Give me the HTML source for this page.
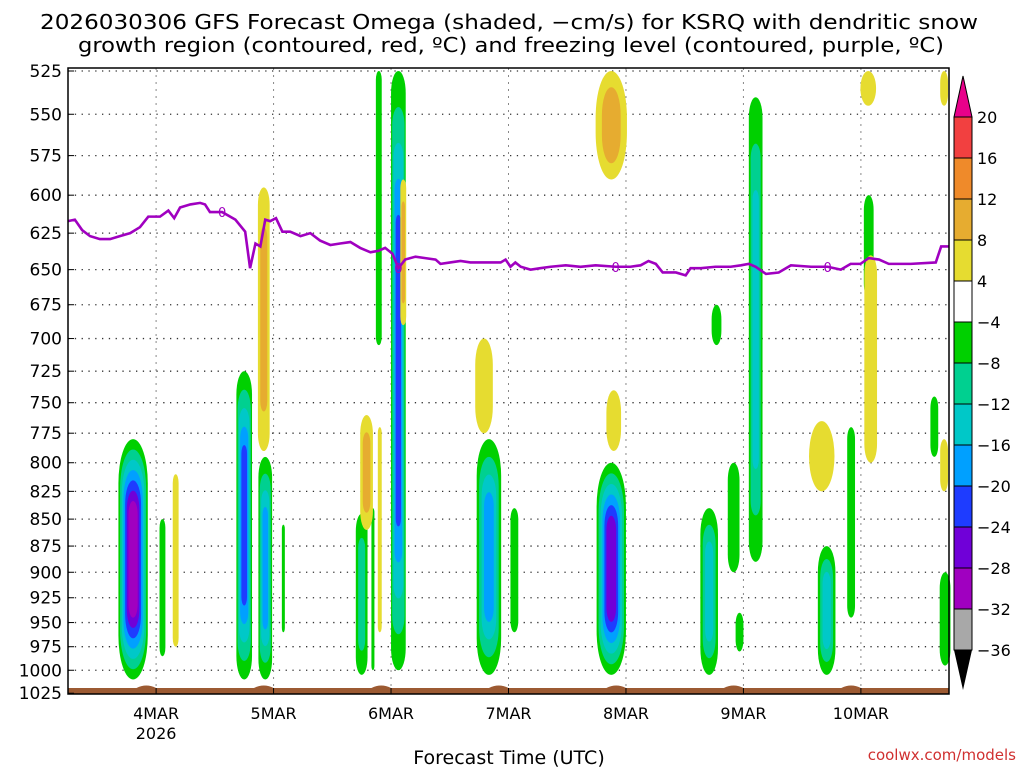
<!DOCTYPE html>
<html><head><meta charset="utf-8">
<style>
body{margin:0;background:#fff;}
svg text{font-family:"DejaVu Sans","Liberation Sans",sans-serif;}
</style></head>
<body>
<svg id="c" width="1024" height="768" viewBox="0 0 1024 768" xmlns="http://www.w3.org/2000/svg">
<text x="40" y="29" font-size="20" textLength="938" lengthAdjust="spacingAndGlyphs">2026030306 GFS Forecast Omega (shaded, −cm/s) for KSRQ with dendritic snow</text>
<text x="78" y="52" font-size="20" textLength="866" lengthAdjust="spacingAndGlyphs">growth region (contoured, red, ºC) and freezing level (contoured, purple, ºC)</text>
<g id="plot"></g>
<g id="axes"></g>
<g id="cbar"></g>
<text x="509" y="764" font-size="19" text-anchor="middle">Forecast Time (UTC)</text>
<text x="1016" y="760" font-size="15" text-anchor="end" fill="#d03030">coolwx.com/models</text>
</svg>
<script>
// ---- data ----
const pressureTicks=[525,550,575,600,625,650,675,700,725,750,775,800,825,850,875,900,925,950,975,1000,1025];
const dayLabels=["4MAR","5MAR","6MAR","7MAR","8MAR","9MAR","10MAR"];
const dayHours=[18,42,66,90,114,138,162];
const cbarLevels=[20,16,12,8,4,-4,-8,-12,-16,-20,-24,-28,-32,-36];
const frzHours=[0,1.4,2.9,4.5,6.5,8.6,10.6,12.7,14.7,16.4,18.8,20.5,21.7,22.9,25,27,28,29,31.5,34.2,36.2,37.2,38.3,39.3,40.3,41.3,42.5,43.8,45.4,47.5,49.5,51.5,53.6,55.6,57.7,59.7,61.8,63.4,64.8,66.3,67.5,68.9,71,73,75.1,76.1,78.1,80.2,82.2,84.3,86.3,88.4,89.4,90.4,91.4,92.5,94.5,96.5,98.6,101.7,104.7,107.8,111.9,114.9,117,118.6,120.1,121.5,124.2,126.2,127.2,129.3,132.3,135.4,137.5,139.1,140.5,142.6,145.2,147.7,151.8,155.2,157.9,159.9,161.9,163.6,165.7,167.7,170.2,172.2,177.3,178.4,180];
const frzPres=[617,616,623,627,629,629,627,625,621,614,614,610,615,608,606,605,606,611,611,616,624,649,632,634,616,617,615,624,624,627,625,630,633,632,631,635,638,637,635,639,649,643,641,642,643,646,645,644,645,645,645,645,643,648,645,648,650,649,648,647,648,647,648,648,647,644,646,652,652,654,649,649,648,648,647,646,648,653,652,647,648,648,650,646,646,642,643,646,646,646,645,634,634];
// omega features: center hour, half-width hours, top p, bottom p, peak value
const featHour=[13.3,19.3,36,40.3,44,60,63.5,62.3,67.5,86,91.2,111,131,140.5,136,132.5,155,160,163.6,177,179.2,137.2, 22,40,61,68.5,63.7,85,111,111.5,154,164,163.5,179,179];
const featHalfW=[3,0.6,1.6,1.4,0.3,1.2,0.6,0.2,1.5,2.5,0.8,3,1.8,1.4,1.2,1,1.8,0.8,1,0.8,1.1,0.8, 0.6,1.2,1.3,0.6,0.4,1.8,3.2,1.5,2.6,1.3,1.6,0.8,0.8];
const featTop=[780,850,725,795,855,845,525,840,525,780,840,800,840,540,800,675,875,770,600,745,900,940, 810,595,760,590,770,700,525,740,765,640,525,525,780];
const featBot=[1010,985,1010,1010,960,1005,705,1000,1000,1005,960,1005,1005,890,900,705,1005,945,670,795,995,980, 975,790,860,690,960,775,590,790,825,800,545,545,825];
const featPeak=[-32,-6,-24,-20,-6,-10,-6,-6,-24,-20,-6,-28,-16,-14,-6,-6,-16,-6,-6,-6,-6,-6, 6,9,11,9,6,6,10,6,6,6,6,6,6];
// ---- helpers ----
const NS="http://www.w3.org/2000/svg";
const X0=68,X1=949,Y0=71,K=930,YB=694;
const xS=h=>X0+h*(X1-X0)/180;
const yS=p=>Y0+K*Math.log(p/525);
function mk(t,a,parent){const e=document.createElementNS(NS,t);for(const k in a)e.setAttribute(k,a[k]);parent.appendChild(e);return e;}
const negCols=["#00d000","#00d090","#00c8c8","#00a0ff","#1e3cff","#7000d8","#a000c0","#a8a8a8"];
const posCols=["#e6dc30","#e6ac30","#ef8a2a","#f24040"];
const plot=document.getElementById('plot'),axes=document.getElementById('axes'),cb=document.getElementById('cbar');
mk('rect',{x:X0,y:68,width:X1-X0,height:YB-68,fill:'#fff'},plot);
pressureTicks.forEach(p=>{const l=mk('line',{x1:X0,x2:X1,y1:yS(p),y2:yS(p),stroke:'#333','stroke-width':1.3,'stroke-dasharray':'1.3 5.5'},plot);

});
dayHours.forEach((h,i)=>{const l=mk('line',{x1:xS(h),x2:xS(h),y1:68,y2:YB,stroke:'#888','stroke-width':1,'stroke-dasharray':'2 5'},plot);

});
featHour.forEach((h,i)=>{
  const v=featPeak[i],neg=v<0;
  const n=Math.max(1,Math.ceil((Math.abs(v)-4)/4));
  const cols=neg?negCols:posCols;
  const cx=xS(h),w=(xS(featHalfW[i])-X0);
  const yt=yS(featTop[i]),yb=yS(featBot[i]),cy=(yt+yb)/2,hh=(yb-yt)/2;
  const g=mk('g',{},plot);
  
  
  for(let k=0;k<n;k++){
    const f=1-k/n*0.8, fh=1-k/n*0.6;
    const ww=Math.max(1.5,w*f),hk=hh*fh;
    mk('rect',{x:cx-ww,y:cy-hk,width:2*ww,height:2*hk,rx:ww,ry:Math.min(hk,ww*3),fill:cols[Math.min(k,cols.length-1)]},g);
  }
});
const terr=mk('path',{d:`M${X0},${YB} L${X0},688 `+dayHours.map(h=>`L${xS(h-4)},688 Q${xS(h-2)},683 ${xS(h)},688`).join(' ')+` L${X1},688 L${X1},${YB} Z`,fill:'#9c5a32'},plot);


const fl=mk('polyline',{points:frzHours.map((h,i)=>xS(h)+','+yS(frzPres[i])).join(' '),fill:'none',stroke:'#a000c0','stroke-width':2.6},plot);


[31.5,67.5,111.9,155.2].forEach(h=>{const i=frzHours.indexOf(h);const t=mk('text',{x:xS(h),y:yS(frzPres[i])+5,'font-size':13,fill:'#a000c0','text-anchor':'middle'},plot);t.textContent='0';

});
mk('rect',{x:X0,y:68,width:X1-X0,height:YB-68,fill:'none',stroke:'#000','stroke-width':1.5},axes);
pressureTicks.forEach(p=>{const t=mk('text',{x:62,y:yS(p)+6,'font-size':17,'text-anchor':'end'},axes);t.textContent=p;


mk('line',{x1:X0,x2:X0+6,y1:yS(p),y2:yS(p),stroke:'#000'},axes);});
dayHours.forEach((h,i)=>{const t=mk('text',{x:xS(h),y:719,'font-size':16,'text-anchor':'middle'},axes);t.textContent=dayLabels[i];


mk('line',{x1:xS(h),x2:xS(h),y1:YB,y2:YB-6,stroke:'#000'},axes);});
const yr=mk('text',{x:xS(18),y:739,'font-size':16,'text-anchor':'middle'},axes);yr.textContent='2026';


const cbCols=["#f24040","#ef8a2a","#e6ac30","#e6dc30","#ffffff","#00d000","#00d090","#00c8c8","#00a0ff","#1e3cff","#7000d8","#a000c0","#a8a8a8"];
const cy0=117,cstep=41,cx0=954,cw=18;
mk('path',{d:`M${cx0},${cy0} L${cx0+cw/2},76 L${cx0+cw},${cy0} Z`,fill:'#e8008a',stroke:'#000'},cb);
cbCols.forEach((c,i)=>{mk('rect',{x:cx0,y:cy0+i*cstep,width:cw,height:cstep,fill:c,stroke:'#000'},cb);});
const yEnd=cy0+cbCols.length*cstep;
mk('path',{d:`M${cx0},${yEnd} L${cx0+cw/2},${yEnd+40} L${cx0+cw},${yEnd} Z`,fill:'#000'},cb);
cbarLevels.forEach((v,i)=>{const t=mk('text',{x:977,y:cy0+i*cstep+6,'font-size':16},cb);t.textContent=v<0?'−'+(-v):v;

});
</script>
</body></html>
